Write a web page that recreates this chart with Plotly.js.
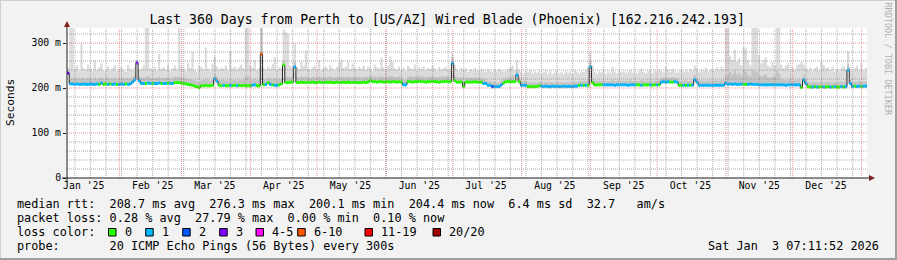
<!DOCTYPE html>
<html><head><meta charset="utf-8">
<script src="https://cdn.plot.ly/plotly-3.0.1.min.js"></script>
<style>html,body{margin:0;padding:0;background:#f2f2f2;overflow:hidden}#chart{width:897px;height:260px}</style>
</head><body><div id="chart"></div>
<script>
// ---- data (one value per day, 360 days ending Sat Jan 3 2026) ----
const startUTC = Date.UTC(2025, 0, 8, 11, 0, 0);
const median = [
233,209,209,208,209,208,208,209,208,208, 209,208,208,209,208,211,208,209,208,209,
208,209,208,208,209,208,209,208,209,213, 218,256,216,210,210,210,211,210,210,210,
210,211,210,210,210,211,210,210,212,212, 212,211,210,209,208,207,206,204,203,201,
205,205,206,205,205,206,221,215,206,205, 206,205,205,206,205,206,205,206,205,206,
205,205,205,206,207,205,205,276,207,208, 212,208,207,206,206,207,209,251,212,212,
213,213,247,212,212,213,212,212,213,212, 213,212,212,213,212,212,213,212,213,212,
212,213,212,212,213,212,213,212,212,213, 212,212,212,213,212,213,217,214,214,213,
214,214,213,214,214,213,214,214,213,214, 213,207,207,214,214,213,214,214,215,214,
214,213,214,214,215,214,214,213,214,214, 215,214,214,255,216,213,213,213,203,213,
213,213,213,214,213,213,213,210,210,206, 206,203,203,203,203,207,211,214,214,214,
214,214,229,214,206,206,206,203,203,203, 203,203,205,204,203,204,203,203,204,203,
204,203,203,204,203,204,203,203,204,204, 206,206,206,206,206,247,212,207,207,207,
207,207,207,207,207,207,206,207,207,207, 207,207,206,207,207,207,207,207,206,207,
207,207,207,206,207,207,207,213,214,213, 214,213,213,214,213,206,206,206,206,206,
206,206,219,213,206,206,206,206,206,206, 206,206,206,206,206,206,211,208,209,208,
209,208,208,209,208,208,208,209,208,208, 208,207,207,207,207,207,207,207,207,207,
207,207,207,206,207,207,207,207,207,207, 201,218,210,203,202,202,203,202,202,203,
202,202,203,202,202,203,202,202,203,202, 203,240,210,203,204,203,204,203,204,204
];
const lossClass = [
3,1,1,1,1,1,1,1,1,1, 1,1,1,1,0,1,0,0,1,0,
1,1,0,1,1,1,0,1,1,1, 1,3,1,1,1,0,1,1,0,1,
1,1,0,1,1,0,1,1,0,0, 0,0,0,0,0,0,0,0,0,0,
0,0,0,0,0,0,1,1,0,0, 1,0,0,1,0,0,1,0,0,0,
0,0,0,1,1,0,0,5,0,1, 0,1,0,1,1,0,0,0,0,0,
0,0,1,0,0,0,0,0,0,0, 0,0,0,0,0,0,0,0,0,0,
0,0,0,0,0,0,0,0,0,0, 0,0,0,0,0,0,0,0,0,0,
0,0,0,0,0,0,0,0,0,0, 0,1,1,0,0,0,0,0,0,0,
0,0,0,0,0,0,0,0,0,0, 0,0,0,1,0,0,0,0,0,0,
0,0,0,0,0,0,0,1,1,1, 1,2,1,1,1,1,0,0,0,0,
0,0,1,0,1,1,1,0,0,0, 0,0,0,1,1,1,1,1,1,1,
1,1,1,1,1,1,1,1,1,1, 0,1,0,1,0,1,0,0,0,0,
0,1,1,1,1,1,1,1,1,1, 1,1,1,1,1,1,0,0,1,0,
0,0,1,0,0,1,0,1,1,1, 1,0,0,1,1,0,0,1,0,1,
0,1,1,1,1,1,1,1,1,1, 1,1,1,1,1,1,1,1,1,1,
1,1,1,1,0,0,1,1,1,1, 1,1,1,1,1,1,1,1,1,1,
1,1,1,1,1,1,1,1,1,1, 0,1,1,0,0,1,0,1,0,0,
1,0,0,1,0,1,0,0,1,0, 1,1,1,1,0,1,1,0,1,1
];
const smokeMid = [
240,221,222,220,223,219,222,221,220,222, 221,219,223,220,222,224,219,221,222,220,
221,223,219,220,222,221,220,222,221,224, 228,262,226,222,223,224,226,222,221,223,
222,225,221,223,222,224,221,223,225,224, 226,223,222,221,220,219,218,217,215,213,
217,218,219,217,216,218,232,226,217,218, 218,217,216,219,217,218,216,218,217,219,
226,228,217,218,220,217,218,335,220,219, 224,220,219,222,218,219,221,262,224,225,
224,225,258,224,223,226,224,225,224,223, 225,224,223,226,224,223,225,224,226,224,
223,225,224,226,225,224,226,223,224,225, 224,225,223,225,224,225,228,226,225,224,
225,227,225,224,226,227,226,225,224,226, 224,219,218,225,226,224,226,225,227,225,
226,224,225,226,227,225,224,225,226,225, 226,225,224,268,227,224,223,224,214,224,
222,223,222,224,223,222,223,220,219,216, 216,213,213,212,213,217,220,223,224,223,
228,223,240,223,216,215,216,212,213,212, 213,212,214,213,212,213,212,213,212,213,
213,212,213,212,213,212,213,212,214,213, 215,216,215,216,217,260,222,216,215,216,
216,217,215,216,215,218,215,216,217,215, 216,215,216,217,215,216,215,216,218,216,
215,216,217,215,216,215,217,222,223,224, 223,222,224,223,222,216,215,216,217,215,
216,215,229,222,216,217,215,216,217,216, 217,216,217,216,218,217,228,232,236,230,
238,230,233,228,240,236,230,226,240,238, 236,228,226,229,231,224,222,226,225,240,
232,220,218,217,219,218,216,218,217,219, 212,228,220,213,212,213,212,213,212,214,
213,212,214,213,212,213,212,213,214,213, 214,252,220,213,214,213,215,214,213,215
];
const smokeMax = [
245,340,340,242,250,238,300,244,240,252, 243,238,262,240,246,255,238,241,248,239,
244,250,238,242,247,240,236,251,243,240, 246,262,240,243,250,340,340,245,241,248,
239,276,242,246,240,252,238,244,250,241, 340,248,243,238,256,244,280,240,236,250,
246,241,290,244,238,252,270,248,240,245, 243,250,239,282,244,248,241,246,252,244,
340,340,250,245,262,240,244,340,245,241, 248,243,252,268,240,246,244,330,325,320,
250,244,300,246,242,258,248,284,243,240, 246,250,243,262,240,245,248,241,250,244,
239,246,256,263,245,248,260,242,255,244, 241,247,243,250,240,248,244,238,252,246,
243,268,245,240,249,270,258,244,241,247, 240,245,238,249,244,241,252,239,246,243,
248,240,245,242,250,244,238,247,241,244, 246,240,243,276,250,242,238,245,240,244,
236,242,239,245,240,237,243,240,236,242, 238,235,241,237,243,240,236,239,242,245,
250,238,262,240,236,232,238,235,240,233, 237,234,239,232,236,240,233,238,231,235,
239,233,236,231,238,234,237,232,240,236, 233,238,235,240,245,278,250,236,233,238,
235,240,232,237,234,248,236,233,239,235, 238,233,236,240,234,237,232,238,244,235,
233,237,240,234,239,236,241,238,235,248, 240,236,243,238,234,237,241,235,239,236,
242,238,250,244,236,241,238,245,237,240, 243,239,246,240,248,242,340,340,270,262,
285,258,266,250,290,288,262,250,340,340, 340,272,255,262,268,250,246,258,250,340,
340,252,244,250,255,238,246,240,250,253, 258,252,245,240,246,238,244,248,239,258,
251,244,246,240,248,236,243,239,245,250, 241,281,246,238,244,250,240,255,237,244
];
const lossLabels = ['0','1','2','3','4-5','6-10','11-19','20/20'];
const lossColors = ['#26ff00','#00b8ff','#0059ff','#7e00ff','#ff00ff','#ff5500','#ff0000','#a10000'];
const monthLabels = ["Jan '25","Feb '25","Mar '25","Apr '25","May '25","Jun '25","Jul '25","Aug '25","Sep '25","Oct '25","Nov '25","Dec '25"];
const monthLabelDates = ['2025-01-16','2025-02-16','2025-03-16','2025-04-16','2025-05-16','2025-06-16','2025-07-16','2025-08-16','2025-09-16','2025-10-16','2025-11-16','2025-12-16'];
const monthStarts = ['2025-02-01','2025-03-01','2025-04-01','2025-05-01','2025-06-01','2025-07-01','2025-08-01','2025-09-01','2025-10-01','2025-11-01','2025-12-01','2026-01-01'];
const yTickVals = [0,100,200,300];
const yTickText = ['0','100 m','200 m','300 m'];
const titleText = 'Last 360 Days from Perth to [US/AZ] Wired Blade (Phoenix) [162.216.242.193]';
const statLines = [
  'median rtt:  208.7 ms avg  276.3 ms max  200.1 ms min  204.4 ms now  6.4 ms sd  32.7   am/s',
  'packet loss: 0.28 % avg  27.79 % max  0.00 % min  0.10 % now',
  'loss color:',
  'probe:       20 ICMP Echo Pings (56 Bytes) every 300s'
];
const stamp = 'Sat Jan  3 07:11:52 2026';

// ---- build ----
const DAY = 86400000;
const fmt = ms => new Date(ms).toISOString().replace('T',' ').slice(0,19);
const N = median.length;
const xs = []; for (let i = 0; i <= N; i++) xs.push(fmt(startUTC + i*DAY));
const ext = a => a.concat([a[a.length-1]]);
const nb = s => s.replace(/ /g, '\u00a0');
const MONO = 'DejaVu Sans Mono';

const L = 67, R = 867, T = 28, B = 178;
const px = p => (p - L)/(R - L);
const py = p => (B - p)/(B - T);

const traces = [];
const hid = {mode:'lines', line:{width:0, shape:'hv'}, hoverinfo:'skip', showlegend:false};
traces.push(Object.assign({x:xs, y:ext(median)}, hid));
traces.push(Object.assign({x:xs, y:ext(smokeMax), fill:'tonexty', fillcolor:'#dcdcdc'}, hid));
traces.push(Object.assign({x:xs, y:ext(median)}, hid));
traces.push(Object.assign({x:xs, y:ext(smokeMid), fill:'tonexty', fillcolor:'#c4c4c4'}, hid));
traces.push({x:xs, y:ext(median), mode:'lines', line:{color:'#202020', width:1, shape:'hv'}, hoverinfo:'skip', showlegend:false});
// loss-coloured median band: one horizontal piece per day (no vertical joins)
lossColors.forEach((col, c) => {
  const x = [], y = [];
  for (let i = 0; i < N; i++) {
    if (lossClass[i] !== c) continue;
    x.push(xs[i], xs[i+1], null);
    y.push(median[i], median[i], null);
  }
  if (x.length) traces.push({x, y, mode:'lines', line:{color:col, width:3}, connectgaps:false, hoverinfo:'skip', showlegend:false});
});

const shapes = [];
const endMs = startUTC + N*DAY;
const minorC = 'rgba(143,143,143,0.75)', majorC = 'rgba(222,79,79,0.6)';
for (let t = Date.UTC(2025,0,12); t < endMs; t += 7*DAY)
  shapes.push({type:'line', xref:'x', yref:'paper', x0:fmt(t), x1:fmt(t), y0:0, y1:1, layer:'above', line:{color:minorC, width:1, dash:'1px,1px'}});
for (let v = 20; v <= 320; v += 20) if (v % 100)
  shapes.push({type:'line', xref:'paper', yref:'y', x0:0, x1:1, y0:v, y1:v, layer:'above', line:{color:minorC, width:1, dash:'1px,1px'}});
monthStarts.forEach(d => shapes.push({type:'line', xref:'x', yref:'paper', x0:d, x1:d, y0:0, y1:1, layer:'above', line:{color:majorC, width:1, dash:'1px,1px'}}));
[100,200,300].forEach(v => shapes.push({type:'line', xref:'paper', yref:'y', x0:0, x1:1, y0:v, y1:v, layer:'above', line:{color:majorC, width:1, dash:'1px,1px'}}));
// axes + arrows
shapes.push({type:'line', xref:'paper', yref:'paper', x0:px(62), x1:px(871), y0:py(178), y1:py(178), layer:'above', line:{color:'#1f1f1f', width:1}});
shapes.push({type:'line', xref:'paper', yref:'paper', x0:px(67), x1:px(67), y0:py(182), y1:py(24), layer:'above', line:{color:'#1f1f1f', width:1}});
const tri = (a,b,c) => `M${px(a[0])},${py(a[1])} L${px(b[0])},${py(b[1])} L${px(c[0])},${py(c[1])} Z`;
shapes.push({type:'path', xref:'paper', yref:'paper', path:tri([67,21],[64,27],[70,27]), fillcolor:'#801f1f', line:{width:0}, layer:'above'});
shapes.push({type:'path', xref:'paper', yref:'paper', path:tri([875,178],[869,175],[869,181]), fillcolor:'#801f1f', line:{width:0}, layer:'above'});
// frame
shapes.push({type:'line', xref:'paper', yref:'paper', x0:px(0), x1:px(897), y0:py(0.5), y1:py(0.5), line:{color:'#cfcfcf', width:1}});
shapes.push({type:'line', xref:'paper', yref:'paper', x0:px(0.5), x1:px(0.5), y0:py(0), y1:py(260), line:{color:'#cfcfcf', width:1}});
shapes.push({type:'line', xref:'paper', yref:'paper', x0:px(896), x1:px(896), y0:py(0), y1:py(260), line:{color:'#9e9e9e', width:2}});
shapes.push({type:'line', xref:'paper', yref:'paper', x0:px(0), x1:px(897), y0:py(259), y1:py(259), line:{color:'#9e9e9e', width:2}});

// legend boxes
const boxX = [108.5,145.7,182.7,219.7,256,297.7,365,433];
const anns = [];
lossColors.forEach((col,i) => {
  shapes.push({type:'rect', xref:'paper', yref:'paper', x0:px(boxX[i]), x1:px(boxX[i]+7.5), y0:py(228.5), y1:py(236), fillcolor:col, line:{color:'#000', width:1}});
  anns.push({xref:'paper', yref:'paper', x:px(boxX[i]+15), y:py(232), xanchor:'left', yanchor:'middle', text:lossLabels[i], showarrow:false, borderpad:0, font:{family:MONO, size:11.83, color:'#000'}});
});
const rowY = [204, 218, 232, 246];
statLines.forEach((s,i) => anns.push({xref:'paper', yref:'paper', x:px(16), y:py(rowY[i]), xanchor:'left', yanchor:'middle', text:nb(s), showarrow:false, borderpad:0, font:{family:MONO, size:11.83, color:'#000'}}));
anns.push({xref:'paper', yref:'paper', x:px(880), y:py(246), xanchor:'right', yanchor:'middle', text:nb(stamp), showarrow:false, borderpad:0, font:{family:MONO, size:11.83, color:'#000'}});
anns.push({xref:'paper', yref:'paper', x:px(10), y:py(103), xanchor:'center', yanchor:'middle', text:'Seconds', textangle:-90, showarrow:false, borderpad:0, font:{family:MONO, size:11.2, color:'#000'}});
anns.push({xref:'paper', yref:'paper', x:px(887.5), y:py(59), xanchor:'center', yanchor:'middle', text:nb('RRDTOOL / TOBI OETIKER'), textangle:90, showarrow:false, borderpad:0, font:{family:MONO, size:8.5, color:'#b0b0b0'}});

const layout = {
  width:897, height:260, autosize:false,
  margin:{l:L, r:897-R, t:T, b:260-B, pad:0},
  paper_bgcolor:'#f2f2f2', plot_bgcolor:'#ffffff', showlegend:false,
  title:{text:titleText, x:0.4985, xref:'container', xanchor:'center', y:1-19/260, yref:'container', yanchor:'middle', font:{family:MONO, size:13.2, color:'#000'}},
  xaxis:{type:'date', range:[xs[0], xs[N]], tickmode:'array', tickvals:monthLabelDates, ticktext:monthLabels, showgrid:false, zeroline:false, showline:false, ticks:'', tickfont:{family:MONO, size:9.8, color:'#000'}, fixedrange:true},
  yaxis:{range:[0, 333.33], tickmode:'array', tickvals:yTickVals, ticktext:yTickText, showgrid:false, zeroline:false, showline:false, ticks:'outside', ticklen:3, tickcolor:'#1f1f1f', tickwidth:1, tickfont:{family:MONO, size:9.8, color:'#000'}, fixedrange:true},
  shapes, annotations:anns
};
Plotly.newPlot('chart', traces, layout, {staticPlot:true, displayModeBar:false});
</script>
</body></html>
